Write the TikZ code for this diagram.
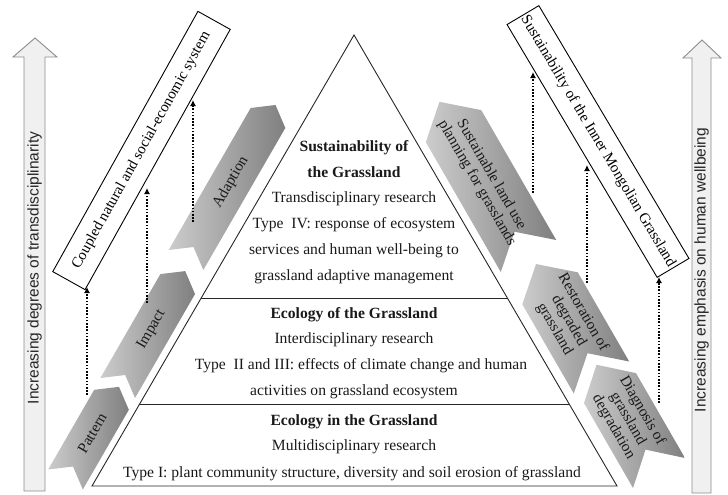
\documentclass[tikz,border=0pt]{standalone}
\usepackage{fontspec}
\setmainfont{Liberation Serif}
\newfontfamily\sansfam{Liberation Sans}
\usetikzlibrary{arrows.meta,calc}
\newcommand{\chevshape}[9]{% name, x, y, angle, L, hw, d, textrot, text
  \begin{scope}[shift={(#2,#3)},rotate=#4]
    \path[chevfill] (0,-#6) -- (#5,-#6) -- ({#5+#7},0) -- (#5,#6) -- (0,#6) -- (#7,0) -- cycle;
    \node[chevtext,rotate=#8] (#1) at ({(#5+#7)/2},0) {#9};
  \end{scope}}
\begin{document}
\begin{tikzpicture}[x=1pt,y=-1pt,
  tri/.style={draw=black!85,line width=0.9pt},
  bigarr/.style={draw=black!45,fill=black!6,line width=0.9pt},
  bigtext/.style={font=\sansfam\fontsize{15.5}{18}\selectfont,text=black!85,rotate=90,inner sep=0pt},
  tline/.style={anchor=base,inner sep=0pt,font=\fontsize{15.6}{18}\selectfont,text=black!90},
  tbold/.style={tline,font=\fontsize{15.6}{18}\selectfont\bfseries},
  sysbox/.style={draw=black,line width=0.9pt,fill=white,minimum height=37pt,inner sep=0pt,font=\fontsize{15}{17}\selectfont},
  chevfill/.style={left color=black!20,right color=black!50},
  chevtext/.style={align=center,inner sep=0pt,font=\fontsize{15.2}{16.5}\selectfont,text=black!90},
  dotarr/.style={line width=1.6pt,dash pattern=on 1.6pt off 1.6pt,-{Latex[length=6pt,width=6pt]}}
]
\useasboundingbox (0,0) rectangle (728,495);

% big vertical arrows
\path[bigarr] (24,491) -- (24,57) -- (13,57) -- (35,38) -- (57,57) -- (45,57) -- (45,491) -- cycle;
\node[bigtext] (lefttxt) at (34.5,268) {Increasing degrees of transdisciplinarity};
\path[bigarr] (692,493) -- (692,58) -- (683,58) -- (702,40) -- (721,58) -- (711,58) -- (711,493) -- cycle;
\node[bigtext] (righttxt) at (701.5,270) {Increasing emphasis on human wellbeing};

% left chevrons
\chevshape{pattern}{65.5}{479.5}{60}{92}{20}{15}{60}{Pattern}
\chevshape{impact}{117.7}{388}{60}{120}{20}{15}{60}{Impact}
\chevshape{adaption}{186}{260}{60}{164}{20}{15}{60}{Adaption}

% right chevrons
\chevshape{sustland}{528.5}{256}{120}{150}{32}{28}{-60}{Sustainable land use\\planning for grasslands}
\chevshape{restor}{601.5}{377.5}{120}{103}{32}{28}{-60}{Restoration of\\degraded\\grassland}
\chevshape{diagn}{659}{473}{120}{98}{30}{27}{-60}{Diagnosis of\\grassland\\degradation}

% triangle
\coordinate (apex) at (354,35);
\coordinate (bl) at (92,486);
\coordinate (br) at (617,486);
\draw[tri] (bl) -- (apex) -- (br) -- cycle;
\coordinate (d1l) at ($(apex)!0.585!(bl)$);
\coordinate (d1r) at ($(apex)!0.585!(br)$);
\coordinate (d2l) at ($(apex)!0.82!(bl)$);
\coordinate (d2r) at ($(apex)!0.82!(br)$);
\draw[tri] (d1l) -- (d1r);
\draw[tri] (d2l) -- (d2r);

% triangle text
\node[tbold] (t1) at (354,151.5) {Sustainability of};
\node[tbold] (t2) at (354,177.5) {the Grassland};
\node[tline] (t3) at (354,202.5) {Transdisciplinary research};
\node[tline] (t4) at (354,228.5) {Type\ \ IV: response of ecosystem};
\node[tline] (t5) at (354,254.5) {services and human well-being to};
\node[tline] (t6) at (354,280.5) {grassland adaptive management};
\node[tbold] (m1) at (354,318.5) {Ecology of the Grassland};
\node[tline] (m2) at (354,343.5) {Interdisciplinary research};
\node[tline] (m3) at (361,369.5) {Type\ \ II and III: effects of climate change and human};
\node[tline] (m4) at (354,395.5) {activities on grassland ecosystem};
\node[tbold] (b1) at (354,425.5) {Ecology in the Grassland};
\node[tline] (b2) at (354,450.5) {Multidisciplinary research};
\node[tline] (b3) at (352,477.5) {Type I: plant community structure, diversity and soil erosion of grassland};

% system boxes
\node[sysbox,minimum width=298pt,rotate=60.85] (cns) at (141.5,150.5) {Coupled natural and social-economic system};
\node[sysbox,minimum width=294pt,rotate=-59.3] (sim) at (598,141.5) {Sustainability of the Inner Mongolian Grassland};

% dotted arrows
\coordinate (a1s) at (87,395);  \coordinate (a1e) at (87,287);
\coordinate (a2s) at (147,303); \coordinate (a2e) at (147,188);
\coordinate (a3s) at (193,222); \coordinate (a3e) at (193,100);
\coordinate (b1s) at (533,193); \coordinate (b1e) at (533,72);
\coordinate (b2s) at (587,283); \coordinate (b2e) at (587,165);
\coordinate (b3s) at (659,403); \coordinate (b3e) at (659,277);
\draw[dotarr] (a1s) -- (a1e);
\draw[dotarr] (a2s) -- (a2e);
\draw[dotarr] (a3s) -- (a3e);
\draw[dotarr] (b1s) -- (b1e);
\draw[dotarr] (b2s) -- (b2e);
\draw[dotarr] (b3s) -- (b3e);
\end{tikzpicture}
\end{document}
